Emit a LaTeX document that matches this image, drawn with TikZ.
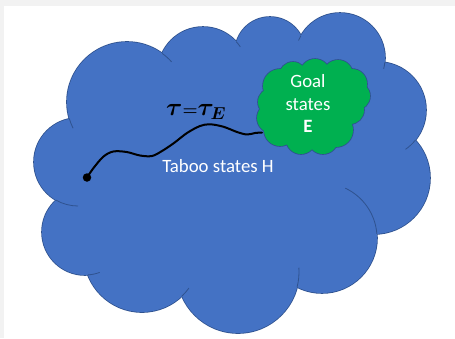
\documentclass[tikz,border=0pt]{standalone}
\usepackage{amsmath,bm}
\usepackage{fontspec}
\setmainfont{Carlito}
\definecolor{cloudblue}{HTML}{4472C4}
\definecolor{cloudline}{HTML}{2F528F}
\definecolor{goalgreen}{HTML}{00B050}
\definecolor{pagegray}{HTML}{F2F2F2}
\begin{document}
\begin{tikzpicture}[x=1pt,y=-1pt,
  lobeline/.style={draw=cloudline,line width=1.6pt},
  tick/.style={draw=cloudline,line width=0.8pt},
  txt/.style={text=white,font=\fontsize{18.8}{22}\selectfont,inner sep=0pt},
  traj/.style={draw=black,line width=2pt,line cap=round,line join=round}]
\useasboundingbox (0,0) rectangle (455,338);
\fill[white] (0,0) rectangle (455,338);
\fill[pagegray] (0,0) rectangle (455,5.5);
\fill[pagegray] (0,0) rectangle (4.3,338);
% blue cloud (Taboo states H)
\foreach \x/\y/\r in {78/162/44,127/102/60,203/72/45,270/52/35,340/58/45,378/110/48,374/178/56,322/238/55,238/272/61,142/254/58,85/232/43}
  {\draw[lobeline] (\x,\y) circle[radius=\r];}
\foreach \x/\y/\r in {78/162/44,127/102/60,203/72/45,270/52/35,340/58/45,378/110/48,374/178/56,322/238/55,238/272/61,142/254/58,85/232/43}
  {\fill[cloudblue] (\x,\y) circle[radius=\r];}
\fill[cloudblue] (235,170) ellipse[x radius=150,y radius=110];
\foreach \x/\y/\r/\a/\b in {127/102/60/164/154,127/102/60/306/318,203/72/45/318/326,340/58/45/209.6/203,340/58/45/5.6/14,378/110/48/38.8/55,322/238/55/355.7/295,238/272/61/14.4/-4,142/254/58/46.4/36,85/232/43/86/70,78/162/44/120/90}
  {\draw[tick] (\x,\y) ++(\a:\r) arc[start angle=\a,end angle=\b,radius=\r];}
% trajectory
\node[circle,fill=black,inner sep=0pt,minimum size=8.5pt] (dot) at (87,177.5) {};
\coordinate (trajend) at (262,132.5);
\draw[traj] plot[smooth,tension=0.55] coordinates {(dot.center) (93.3,168.3) (103.3,156.7) (113.3,151.5) (126.7,152) (140,155.5) (152,156) (162,151) (174,143) (187,133) (200,126) (210,124.3) (223.3,126.7) (237,132) (247,134.5) (255,133) (trajend)};
% green cloud (Goal states E)
\foreach \x/\y/\r in {280/86/17,293/76/14,315/74/15,338/75/15,352/84/15,356/96/14,350/110/14,336/130/17,323/139/15,301/139/15,280/130/16,272/118/15,272/102/14}
  {\draw[lobeline] (\x,\y) circle[radius=\r];}
\foreach \x/\y/\r in {280/86/17,293/76/14,315/74/15,338/75/15,352/84/15,356/96/14,350/110/14,336/130/17,323/139/15,301/139/15,280/130/16,272/118/15,272/102/14}
  {\fill[goalgreen] (\x,\y) circle[radius=\r];}
\fill[goalgreen] (313,106) ellipse[x radius=40,y radius=32];
% texts
\node[txt,anchor=base] (taboo) at (218,172) {Taboo states H};
\node[txt,anchor=base] (goalA) at (308,87.5) {Goal};
\node[txt,anchor=base] (goalB) at (308,110) {states};
\node[txt,anchor=base] (goalC) at (308,132.5) {\textbf{E}};
\node[inner sep=0pt,anchor=base west,font=\fontsize{24}{24}\selectfont] (tau) at (166,115.5) {$\bm{\tau}\mathord{\scriptstyle\bm{=}}\bm{\tau}_{\bm{E}}$};
\end{tikzpicture}
\end{document}
